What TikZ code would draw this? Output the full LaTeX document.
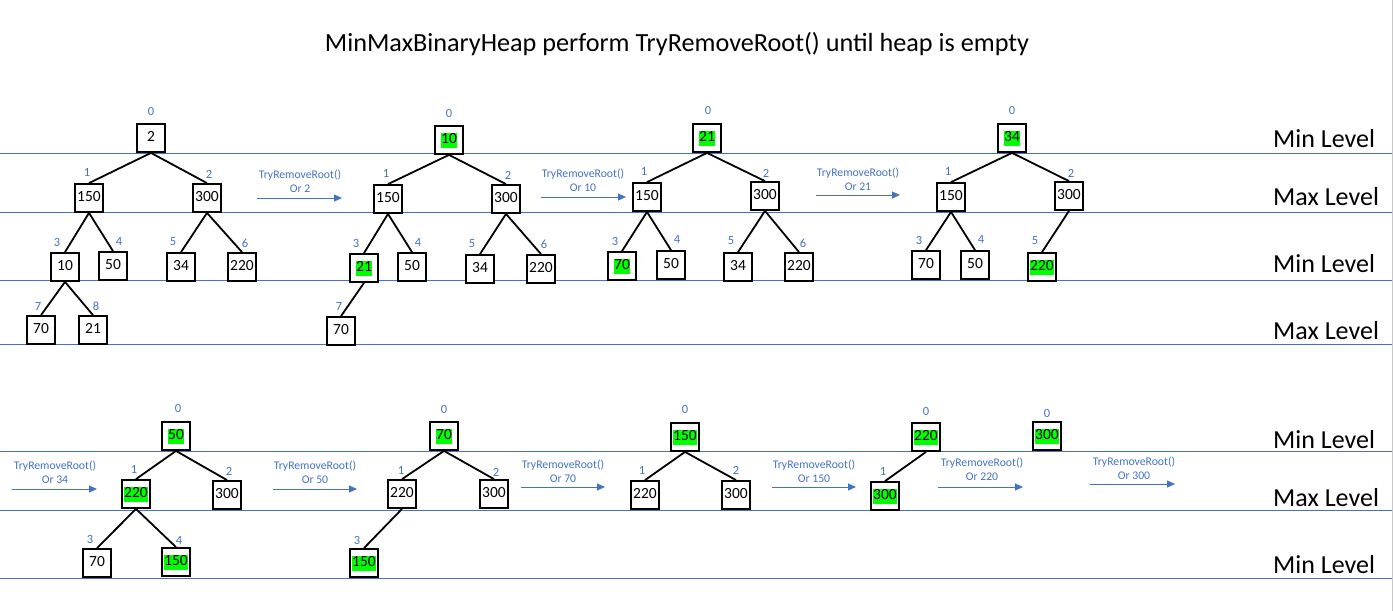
\documentclass[tikz,border=0pt]{standalone}
\usepackage{fontspec}
\setmainfont{Carlito}
\usetikzlibrary{arrows.meta}
\definecolor{lineblue}{HTML}{4472C4}
\definecolor{hlgreen}{HTML}{00FF00}
\newcommand{\hlg}[1]{{\setlength{\fboxsep}{0pt}\colorbox{hlgreen}{\rule[-3.6pt]{0pt}{15pt}\hspace{0.6pt}#1\hspace{0.6pt}}}}
\begin{document}
\begin{tikzpicture}[x=1pt,y=-1pt,
  box/.style={draw,line width=1.8pt,fill=white,minimum size=28pt,inner sep=0pt,
    text height=11.4pt,text depth=3.6pt,font=\fontsize{15.5}{17}\selectfont},
  idx/.style={text=lineblue,inner sep=0pt,font=\fontsize{12.5}{14}\selectfont},
  op/.style={text=lineblue,align=center,inner sep=0pt,font=\fontsize{11.7}{14}\selectfont},
  lvl/.style={anchor=west,inner sep=0pt,font=\fontsize{26}{28}\selectfont},
  edge/.style={line width=1.8pt},
  step arrow/.style={lineblue,line width=1pt,-{Triangle[length=8pt,width=7pt]}}]
\useasboundingbox (0,0) rectangle (1393,611);
\draw[black!22,line width=1pt] (1392.5,0) -- (1392.5,611);
\node[font=\fontsize{26.2}{28}\selectfont,inner sep=0pt] (title) at (677,44) {MinMaxBinaryHeap perform TryRemoveRoot() until heap is empty};
% level lines
\draw[lineblue,line width=0.9pt] (0,153) -- (1392,153) (0,212) -- (1392,212) (0,280) -- (1392,280) (0,344) -- (1392,344);
\draw[lineblue,line width=0.9pt] (0,451) -- (1392,451) (0,510) -- (1392,510) (0,578) -- (1392,578);
\node[lvl] (lv1) at (1273,139) {Min Level};
\node[lvl] (lv2) at (1273,197) {Max Level};
\node[lvl] (lv3) at (1273,264) {Min Level};
\node[lvl] (lv4) at (1273,331) {Max Level};
\node[lvl] (lv5) at (1273,440) {Min Level};
\node[lvl] (lv6) at (1273,498) {Max Level};
\node[lvl] (lv7) at (1273,565) {Min Level};

% heap 1
\node[box] (a0) at (151,138) {2};   \node[idx] (la0) at (151,111) {0};
\node[box] (a1) at (89,198) {150};  \node[idx] (la1) at (87,172) {1};
\node[box] (a2) at (207,198) {300}; \node[idx] (la2) at (209,174) {2};
\node[box] (a3) at (65,267) {10};   \node[idx] (la3) at (57,242) {3};
\node[box] (a4) at (113,266) {50};  \node[idx] (la4) at (119,241) {4};
\node[box] (a5) at (181,267) {34};  \node[idx] (la5) at (173,242) {5};
\node[box] (a6) at (242,267) {220}; \node[idx] (la6) at (245,243) {6};
\node[box] (a7) at (41,330) {70};   \node[idx] (la7) at (38,306) {7};
\node[box] (a8) at (93,330) {21};   \node[idx] (la8) at (96,306) {8};
\draw[edge] (a0.south) -- (a1.north) (a0.south) -- (a2.north) (a1.south) -- (a3.north) (a1.south) -- (a4.north)
  (a2.south) -- (a5.north) (a2.south) -- (a6.north) (a3.south) -- (a7.north) (a3.south) -- (a8.north);

\node[op] (op1) at (300,181) {TryRemoveRoot()\\Or 2};
\coordinate (s1) at (257,198); \coordinate (e1) at (342,198);
\draw[step arrow] (s1) -- (e1);

% heap 2
\node[box] (b0) at (449,140) {\hlg{10}};  \node[idx] (lb0) at (449,113) {0};
\node[box] (b1) at (388,199) {150};       \node[idx] (lb1) at (386,173) {1};
\node[box] (b2) at (506,199) {300};       \node[idx] (lb2) at (508,175) {2};
\node[box] (b3) at (364,268) {\hlg{21}};  \node[idx] (lb3) at (356,243) {3};
\node[box] (b4) at (412,267) {50};        \node[idx] (lb4) at (418,242) {4};
\node[box] (b5) at (480,269) {34};        \node[idx] (lb5) at (472,244) {5};
\node[box] (b6) at (541,269) {220};       \node[idx] (lb6) at (544,244) {6};
\node[box] (b7) at (341,331) {70};        \node[idx] (lb7) at (339,306) {7};
\draw[edge] (b0.south) -- (b1.north) (b0.south) -- (b2.north) (b1.south) -- (b3.north) (b1.south) -- (b4.north)
  (b2.south) -- (b5.north) (b2.south) -- (b6.north) (b3.south) -- (b7.north);

\node[op] (op2) at (583,180) {TryRemoveRoot()\\Or 10};
\coordinate (s2) at (541,197); \coordinate (e2) at (626,197);
\draw[step arrow] (s2) -- (e2);

% heap 3
\node[box] (c0) at (707,138) {\hlg{21}};  \node[idx] (lc0) at (708,110) {0};
\node[box] (c1) at (647,197) {150};       \node[idx] (lc1) at (644,171) {1};
\node[box] (c2) at (765,196) {300};       \node[idx] (lc2) at (766,173) {2};
\node[box] (c3) at (622,266) {\hlg{70}};  \node[idx] (lc3) at (615,241) {3};
\node[box] (c4) at (671,265) {50};        \node[idx] (lc4) at (677,239) {4};
\node[box] (c5) at (738,267) {34};        \node[idx] (lc5) at (731,241) {5};
\node[box] (c6) at (799,267) {220};       \node[idx] (lc6) at (803,243) {6};
\draw[edge] (c0.south) -- (c1.north) (c0.south) -- (c2.north) (c1.south) -- (c3.north) (c1.south) -- (c4.north)
  (c2.south) -- (c5.north) (c2.south) -- (c6.north);

\node[op] (op3) at (858,179) {TryRemoveRoot()\\Or 21};
\coordinate (s3) at (816,195); \coordinate (e3) at (900,195);
\draw[step arrow] (s3) -- (e3);

% heap 4
\node[box] (d0) at (1012,138) {\hlg{34}}; \node[idx] (ld0) at (1012,110) {0};
\node[box] (d1) at (951,197) {150};       \node[idx] (ld1) at (948,171) {1};
\node[box] (d2) at (1069,196) {300};      \node[idx] (ld2) at (1071,173) {2};
\node[box] (d3) at (926,265) {70};        \node[idx] (ld3) at (919,240) {3};
\node[box] (d4) at (975,265) {50};        \node[idx] (ld4) at (981,239) {4};
\node[box] (d5) at (1042,267) {\hlg{220}};\node[idx] (ld5) at (1035,241) {5};
\draw[edge] (d0.south) -- (d1.north) (d0.south) -- (d2.north) (d1.south) -- (d3.north) (d1.south) -- (d4.north)
  (d2.south) -- (d5.north);

% second row
\node[op] (op4) at (55,472) {TryRemoveRoot()\\Or 34};
\coordinate (s4) at (12,489); \coordinate (e4) at (97,489);
\draw[step arrow] (s4) -- (e4);

% heap 5
\node[box] (e0) at (176,436) {\hlg{50}};  \node[idx] (le0) at (178,408) {0};
\node[box] (e1) at (136,494) {\hlg{220}}; \node[idx] (le1) at (134,469) {1};
\node[box] (e2) at (227,495) {300};       \node[idx] (le2) at (229,471) {2};
\node[box] (e3) at (97,563) {70};         \node[idx] (le3) at (90,539) {3};
\node[box] (e4) at (176,562) {\hlg{150}}; \node[idx] (le4) at (179,540) {4};
\draw[edge] (e0.south) -- (e1.north) (e0.south) -- (e2.north) (e1.south) -- (e3.north) (e1.south) -- (e4.north);

\node[op] (op5) at (315,472) {TryRemoveRoot()\\Or 50};
\coordinate (s5) at (273,489); \coordinate (e5) at (357,489);
\draw[step arrow] (s5) -- (e5);

% heap 6
\node[box] (f0) at (444,436) {\hlg{70}};  \node[idx] (lf0) at (444,409) {0};
\node[box] (f1) at (402,494) {220};       \node[idx] (lf1) at (401,470) {1};
\node[box] (f2) at (494,494) {300};       \node[idx] (lf2) at (496,472) {2};
\node[box] (f3) at (364,563) {\hlg{150}}; \node[idx] (lf3) at (357,540) {3};
\draw[edge] (f0.south) -- (f1.north) (f0.south) -- (f2.north) (f1.south) -- (f3.north);

\node[op] (op6) at (563,471) {TryRemoveRoot()\\Or 70};
\coordinate (s6) at (521,487); \coordinate (e6) at (605,487);
\draw[step arrow] (s6) -- (e6);

% heap 7
\node[box] (g0) at (685,437) {\hlg{150}}; \node[idx] (lg0) at (685,409) {0};
\node[box] (g1) at (645,495) {220};       \node[idx] (lg1) at (642,470) {1};
\node[box] (g2) at (736,495) {300};       \node[idx] (lg2) at (736,470) {2};
\draw[edge] (g0.south) -- (g1.north) (g0.south) -- (g2.north);

\node[op] (op7) at (814,471) {TryRemoveRoot()\\Or 150};
\coordinate (s7) at (772,487); \coordinate (e7) at (856,487);
\draw[step arrow] (s7) -- (e7);

% heap 8
\node[box] (h0) at (926,437) {\hlg{220}}; \node[idx] (lh0) at (926,411) {0};
\node[box] (h1) at (885,496) {\hlg{300}}; \node[idx] (lh1) at (883,471) {1};
\draw[edge] (h0.south) -- (h1.north);

\node[op] (op8) at (982,469) {TryRemoveRoot()\\Or 220};
\coordinate (s8) at (938,487); \coordinate (e8) at (1023,487);
\draw[step arrow] (s8) -- (e8);

% heap 9
\node[box] (i0) at (1047,436) {\hlg{300}}; \node[idx] (li0) at (1047,413) {0};

\node[op] (op9) at (1134,468) {TryRemoveRoot()\\Or 300};
\coordinate (s9) at (1090,484); \coordinate (e9) at (1175,484);
\draw[step arrow] (s9) -- (e9);
\end{tikzpicture}
\end{document}
